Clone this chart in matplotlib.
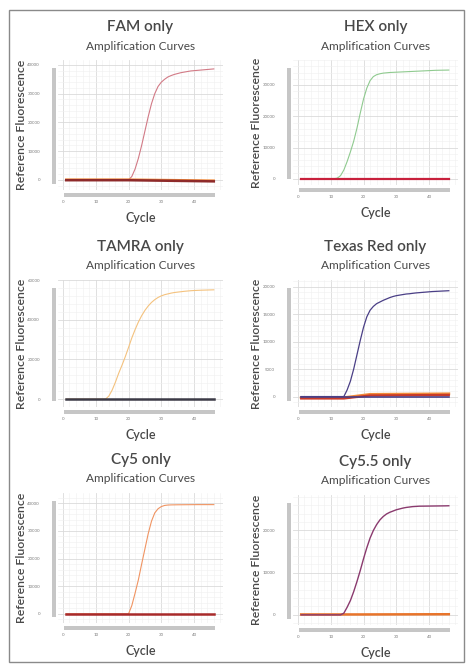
import matplotlib
matplotlib.use("Agg")
import matplotlib.pyplot as plt
from matplotlib.patches import Rectangle
from matplotlib.ticker import MultipleLocator

plt.rcParams['font.family'] = ['Lato', 'DejaVu Sans']

W, H = 475, 672

# cycles shared by every amplification curve
cycles = list(range(1, 47))

fam_curve = [0] * 20 + [1200, 3800, 7500, 12000, 17000, 22000, 26500, 30000, 32500, 34000,
                        35000, 35800, 36300, 36700, 37000, 37300, 37500, 37700, 37900, 38000,
                        38100, 38200, 38300, 38400, 38500, 38600]
hex_curve = [0] * 11 + [200, 1000, 2800, 5500, 8600, 12000, 16200, 21000, 25500, 29000,
                        31400, 32700, 33300, 33600, 33800, 33900, 34000, 34050, 34100, 34150,
                        34200, 34250, 34300, 34350, 34400, 34450, 34500, 34550, 34600, 34650,
                        34700, 34720, 34740, 34760, 34780]
tamra_curve = [0] * 13 + [1500, 4500, 8500, 13000, 17000, 21300, 26000, 30800, 35000, 38800,
                          42000, 44700, 46900, 48700, 50100, 51200, 52000, 52600, 53000, 53400,
                          53700, 53900, 54100, 54300, 54450, 54600, 54700, 54780, 54850, 54900,
                          54950, 55000, 55050]
texas_curve = [0] * 14 + [1200, 2800, 5000, 7600, 10200, 12600, 14500, 15700, 16400, 16900,
                          17200, 17500, 17750, 18000, 18200, 18350, 18450, 18550, 18650, 18700,
                          18780, 18850, 18900, 18950, 19000, 19050, 19100, 19130, 19160, 19190,
                          19220, 19250]
cy5_curve = [0] * 20 + [3000, 7500, 12300, 18000, 23500, 29000, 33500, 36500, 38000, 38800,
                        39200, 39350, 39400, 39420, 39440, 39450, 39460, 39470, 39480, 39490,
                        39500, 39500, 39500, 39500, 39500, 39500]
cy55_curve = [0] * 13 + [400, 1800, 3400, 5500, 7900, 10500, 13300, 15900, 18200, 20000,
                         21400, 22500, 23300, 23900, 24300, 24600, 24900, 25100, 25300, 25450,
                         25550, 25650, 25700, 25750, 25760, 25770, 25780, 25790, 25800, 25810,
                         25820, 25830, 25850]

# flat / drifting baseline traces of the other channels
base_cycles = [1, 20, 46]
fam_base_orange = [150, 150, -200]
fam_base_dark = [-100, -100, -500]
hex_base_orange = [-150, -150, -150]
hex_base_red = [0, 0, 0]
tamra_base_dark = [0, 0, 0]
texas_cycles = [1, 14, 22, 46]
texas_base_dark = [0, 0, 0, 0]
texas_base_red = [-350, -350, 200, 300]
texas_base_orange = [-200, -200, 400, 500]
cy5_base_dark = [0, 0, 0]
cy55_base_orange = [100, 100, 150]

titles = ['FAM only', 'HEX only', 'TAMRA only', 'Texas Red only', 'Cy5 only', 'Cy5.5 only']
yticks = [[0, 10000, 20000, 30000, 40000], [0, 10000, 20000, 30000], [0, 20000, 40000, 60000],
          [0, 5000, 10000, 15000, 20000], [0, 10000, 20000, 30000, 40000], [0, 10000, 20000]]
ylims = [(-3500, 41700), (-2000, 38000), (-4000, 60000),
         (-1900, 21200), (-3300, 43700), (-2400, 28400)]

# axes boxes in pixels: left, top, right, bottom
boxes = [(58, 60, 223, 190), (293, 60, 458, 185),
         (58, 280, 223, 407), (293, 280, 458, 407),
         (58, 493, 223, 623), (293, 495, 458, 625)]

txt = '#484848'
fig = plt.figure(figsize=(W / 100, H / 100), dpi=100)
fig.patch.set_facecolor('white')

# outer frame
fig.add_artist(Rectangle((9 / W, 1 - 662 / H), 455 / W, 652 / H, transform=fig.transFigure,
                         fill=False, edgecolor='#8a8a8a', lw=1.0))


def px(x, y):
    return x / W, 1 - y / H


axes = []
for i, (l, t, r, b) in enumerate(boxes):
    ax = fig.add_axes([l / W, 1 - b / H, (r - l) / W, (b - t) / H])
    ax.set_xlim(-1.5, 48.8)
    ax.set_ylim(*ylims[i])
    ax.set_xticks([0, 10, 20, 30, 40])
    ax.set_yticks(yticks[i])
    ax.xaxis.set_minor_locator(MultipleLocator(2))
    ax.yaxis.set_minor_locator(MultipleLocator(yticks[i][1] / 5))
    ax.grid(which='major', color='#dadada', lw=0.6)
    ax.grid(which='minor', color='#efefef', lw=0.4)
    ax.set_axisbelow(True)
    for s in ax.spines.values():
        s.set_visible(False)
    ax.tick_params(which='both', length=0, labelsize=3.2, labelcolor='#7a7a7a')
    ax.tick_params(axis='x', pad=7)
    ax.tick_params(axis='y', pad=13)
    # scrollbars drawn by the instrument software
    fig.add_artist(Rectangle(px(l - 6, b - 6), 4 / W, (b - t - 14) / H,
                             transform=fig.transFigure, color='#c6c6c6', lw=0))
    fig.add_artist(Rectangle(px(l + 6, b + 7), (r - l - 14) / W, 4 / H,
                             transform=fig.transFigure, color='#c6c6c6', lw=0))
    cx = (l + r) / 2
    fig.text(*px(cx, t - 33), titles[i], ha='center', va='center', fontsize=11,
             color=txt, fontweight='semibold')
    fig.text(*px(cx, t - 14), 'Amplification Curves', ha='center', va='center',
             fontsize=8.6, color=txt)
    fig.text(*px(cx, b + 28), 'Cycle', ha='center', va='center', fontsize=9,
             color=txt, fontweight='semibold')
    fig.text(*px(l - 36, (t + b) / 2), 'Reference Fluorescence', ha='center', va='center',
             rotation=90, fontsize=8.8, color=txt, fontweight='semibold')
    axes.append(ax)

a = axes[0]
a.plot(cycles, fam_curve, color='#d27a86', lw=0.8)
a.plot(base_cycles, fam_base_orange, color='#f08a3a', lw=1.6)
a.plot(base_cycles, fam_base_dark, color='#8e2a2a', lw=1.8)

a = axes[1]
a.plot(cycles, hex_curve, color='#8fca8f', lw=0.8)
a.plot(base_cycles, hex_base_orange, color='#f08a3a', lw=1.4)
a.plot(base_cycles, hex_base_red, color='#c8203c', lw=1.6)

a = axes[2]
a.plot(cycles, tamra_curve, color='#f4c27e', lw=0.8)
a.plot(base_cycles, tamra_base_dark, color='#3c3a46', lw=1.8)

a = axes[3]
a.plot(texas_cycles, texas_base_orange, color='#f08a3a', lw=2.0)
a.plot(texas_cycles, texas_base_red, color='#c83a2a', lw=1.6)
a.plot(texas_cycles, texas_base_dark, color='#4a3f86', lw=1.2)
a.plot(cycles, texas_curve, color='#4a3f86', lw=0.9)

a = axes[4]
a.plot(cycles, cy5_curve, color='#f09462', lw=0.8)
a.plot(base_cycles, cy5_base_dark, color='#a82a2a', lw=1.8)

a = axes[5]
a.plot(base_cycles, cy55_base_orange, color='#e8742a', lw=1.8)
a.plot(cycles, cy55_curve, color='#8a3a6e', lw=1.0)

plt.savefig('out.png', dpi=100)
